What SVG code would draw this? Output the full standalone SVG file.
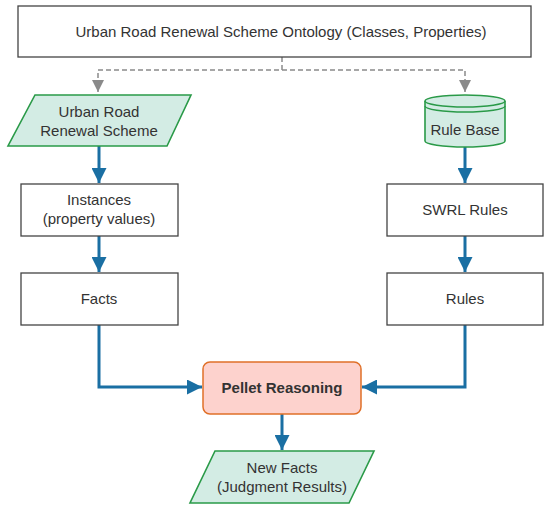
<svg xmlns="http://www.w3.org/2000/svg" width="550" height="509" viewBox="0 0 550 509">
<defs>
<style>
text{font-family:"Liberation Sans",Arial,sans-serif;fill:#333;text-anchor:middle;font-size:15px}
.box{fill:#fff;stroke:#444;stroke-width:1.3}
.data{fill:#d3ece4;stroke:#2a9a48;stroke-width:1.6}
.flow{fill:none;stroke:#1a6fa3;stroke-width:3}
.dash{fill:none;stroke:#8a8a8a;stroke-width:1.5;stroke-dasharray:5,3}
</style>
<marker id="ab" viewBox="0 0 10 10" refX="10" refY="5" markerWidth="5" markerHeight="5" orient="auto" markerUnits="strokeWidth"><path d="M0,0L10,5L0,10z" fill="#1a6fa3"/></marker>
<marker id="ag" viewBox="0 0 10 10" refX="10" refY="5" markerWidth="8" markerHeight="8" orient="auto" markerUnits="strokeWidth"><path d="M0,0L10,5L0,10z" fill="#8a8a8a"/></marker>
</defs>
<g id="connectors">
<path class="dash" d="M282,57V70H98V92" marker-end="url(#ag)"/>
<path class="dash" d="M282,70H465V92" marker-end="url(#ag)"/>
<path class="flow" d="M99,146V183" marker-end="url(#ab)"/>
<path class="flow" d="M99,236V272" marker-end="url(#ab)"/>
<path class="flow" d="M99,325V387H202" marker-end="url(#ab)"/>
<path class="flow" d="M465,147V183" marker-end="url(#ab)"/>
<path class="flow" d="M465,236V272" marker-end="url(#ab)"/>
<path class="flow" d="M465,325V387H362" marker-end="url(#ab)"/>
<path class="flow" d="M282,414V450" marker-end="url(#ab)"/>
</g>
<g id="ontology"><rect class="box" x="18" y="6" width="513" height="51"/><text x="281" y="37" font-size="16.6">Urban Road Renewal Scheme Ontology (Classes, Properties)</text></g>
<g id="scheme"><path class="data" d="M35,95H191L167,146H8z"/><text x="99" y="117">Urban Road</text><text x="99" y="136">Renewal Scheme</text></g>
<g id="rulebase">
<path class="data" d="M425,101V141A40,6 0 0 0 505,141V101"/>
<ellipse class="data" cx="465" cy="101" rx="40" ry="6"/>
<path d="M425,106A40,6 0 0 0 505,106" fill="none" stroke="#2a9a48" stroke-width="1.4"/>
<text x="465" y="135">Rule Base</text></g>
<g id="instances"><rect class="box" x="21" y="184" width="157" height="52"/><text x="99" y="205">Instances</text><text x="99" y="224">(property values)</text></g>
<g id="swrl"><rect class="box" x="387" y="184" width="156" height="52"/><text x="465" y="215">SWRL Rules</text></g>
<g id="facts"><rect class="box" x="21" y="273" width="157" height="52"/><text x="99" y="304">Facts</text></g>
<g id="rules"><rect class="box" x="387" y="273" width="156" height="52"/><text x="465" y="304">Rules</text></g>
<g id="pellet"><rect x="203" y="362" width="158" height="52" rx="7" fill="#fdd2cd" stroke="#e07028" stroke-width="1.5"/><text x="282" y="393" font-weight="bold" font-size="16">Pellet Reasoning</text></g>
<g id="newfacts"><path class="data" d="M215,451H374L349,503H190z"/><text x="282" y="473">New Facts</text><text x="282" y="492">(Judgment Results)</text></g>
</svg>
